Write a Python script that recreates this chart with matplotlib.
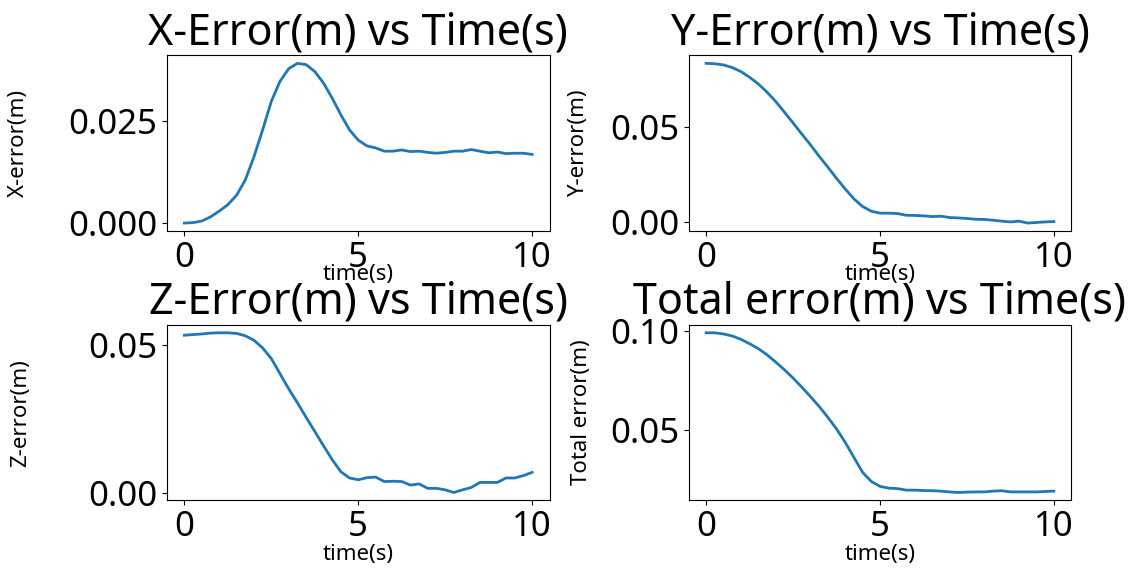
import matplotlib
matplotlib.use("Agg")
import matplotlib.pyplot as plt

plt.rcParams["font.family"] = ["Noto Sans", "DejaVu Sans"]

# time samples (s)
time_s = [0.0, 0.25, 0.5, 0.75, 1.0, 1.25, 1.5, 1.75, 2.0, 2.25,
          2.5, 2.75, 3.0, 3.25, 3.5, 3.75, 4.0, 4.25, 4.5, 4.75,
          5.0, 5.25, 5.5, 5.75, 6.0, 6.25, 6.5, 6.75, 7.0, 7.25,
          7.5, 7.75, 8.0, 8.25, 8.5, 8.75, 9.0, 9.25, 9.5, 9.75, 10.0]

x_err = [0.0000, 0.0001, 0.0005, 0.0015, 0.0029, 0.0045, 0.0068, 0.0105, 0.0162, 0.0228,
         0.0298, 0.0347, 0.0378, 0.0391, 0.0388, 0.0371, 0.0343, 0.0306, 0.0265, 0.0228,
         0.0203, 0.0189, 0.0184, 0.0176, 0.0176, 0.0179, 0.0175, 0.0176, 0.0173, 0.0171,
         0.0173, 0.0176, 0.0176, 0.0180, 0.0176, 0.0172, 0.0174, 0.0170, 0.0171, 0.0171, 0.0168]

y_err = [0.0836, 0.0834, 0.0828, 0.0814, 0.0793, 0.0763, 0.0728, 0.0685, 0.0636, 0.0580,
         0.0523, 0.0465, 0.0408, 0.0348, 0.0291, 0.0232, 0.0176, 0.0124, 0.0084, 0.0059,
         0.0049, 0.0049, 0.0047, 0.0038, 0.0037, 0.0035, 0.0031, 0.0033, 0.0026, 0.0024,
         0.0021, 0.0017, 0.0016, 0.0012, 0.0007, 0.0003, 0.0007, -0.0003, 0.0000, 0.0003, 0.0005]

z_err = [0.0534, 0.0536, 0.0538, 0.0541, 0.0542, 0.0542, 0.0540, 0.0532, 0.0517, 0.0491,
         0.0455, 0.0404, 0.0353, 0.0306, 0.0257, 0.0209, 0.0161, 0.0114, 0.0073, 0.0052,
         0.0046, 0.0053, 0.0055, 0.0040, 0.0041, 0.0040, 0.0028, 0.0032, 0.0017, 0.0017,
         0.0012, 0.0003, 0.0012, 0.0020, 0.0037, 0.0037, 0.0037, 0.0052, 0.0052, 0.0060, 0.0071]

total_err = [0.0992, 0.0992, 0.0986, 0.0976, 0.0959, 0.0937, 0.0912, 0.0881, 0.0844, 0.0805,
             0.0763, 0.0717, 0.0669, 0.0619, 0.0564, 0.0505, 0.0437, 0.0361, 0.0285, 0.0239,
             0.0214, 0.0205, 0.0203, 0.0195, 0.0195, 0.0193, 0.0192, 0.0190, 0.0186, 0.0183,
             0.0185, 0.0186, 0.0186, 0.0190, 0.0192, 0.0186, 0.0186, 0.0186, 0.0186, 0.0188, 0.0190]

panels = [
  (x_err, "X-Error(m) vs Time(s)", "X-error(m)"),
  (y_err, "Y-Error(m) vs Time(s)", "Y-error(m)"),
  (z_err, "Z-Error(m) vs Time(s)", "Z-error(m)"),
  (total_err, "Total error(m) vs Time(s)", "Total error(m)"),
]

fig, axes = plt.subplots(2, 2, figsize=(11.36, 5.71), dpi=100)
fig.subplots_adjust(left=0.147, right=0.943, bottom=0.1235, top=0.903,
                    wspace=0.364, hspace=0.534)

for ax, (vals, title, ylabel) in zip(axes.flat, panels):
  ax.plot(time_s, vals, color="#1f77b4", linewidth=2)
  ax.set_title(title, fontsize=31)
  ax.set_xlabel("time(s)", fontsize=16)
  ax.set_ylabel(ylabel, fontsize=16)
  ax.tick_params(labelsize=25)

axes[0, 0].set_yticks([0.0, 0.025])
axes[0, 1].set_yticks([0.0, 0.05])
axes[1, 0].set_yticks([0.0, 0.05])
axes[1, 1].set_yticks([0.05, 0.10])
for ax in axes.flat:
  ax.set_xticks([0, 5, 10])

# label placement (axes fractions), the top-row x labels sit up on the ticks
axes[0, 0].yaxis.set_label_coords(-0.36, 0.5)
axes[1, 0].yaxis.set_label_coords(-0.355, 0.5)
axes[0, 1].yaxis.set_label_coords(-0.26, 0.5)
axes[1, 1].yaxis.set_label_coords(-0.252, 0.5)
for ax in axes[0]:
  ax.xaxis.set_label_coords(0.5, -0.19)
for ax in axes[1]:
  ax.xaxis.set_label_coords(0.5, -0.25)

fig.savefig("out.png", dpi=100)
